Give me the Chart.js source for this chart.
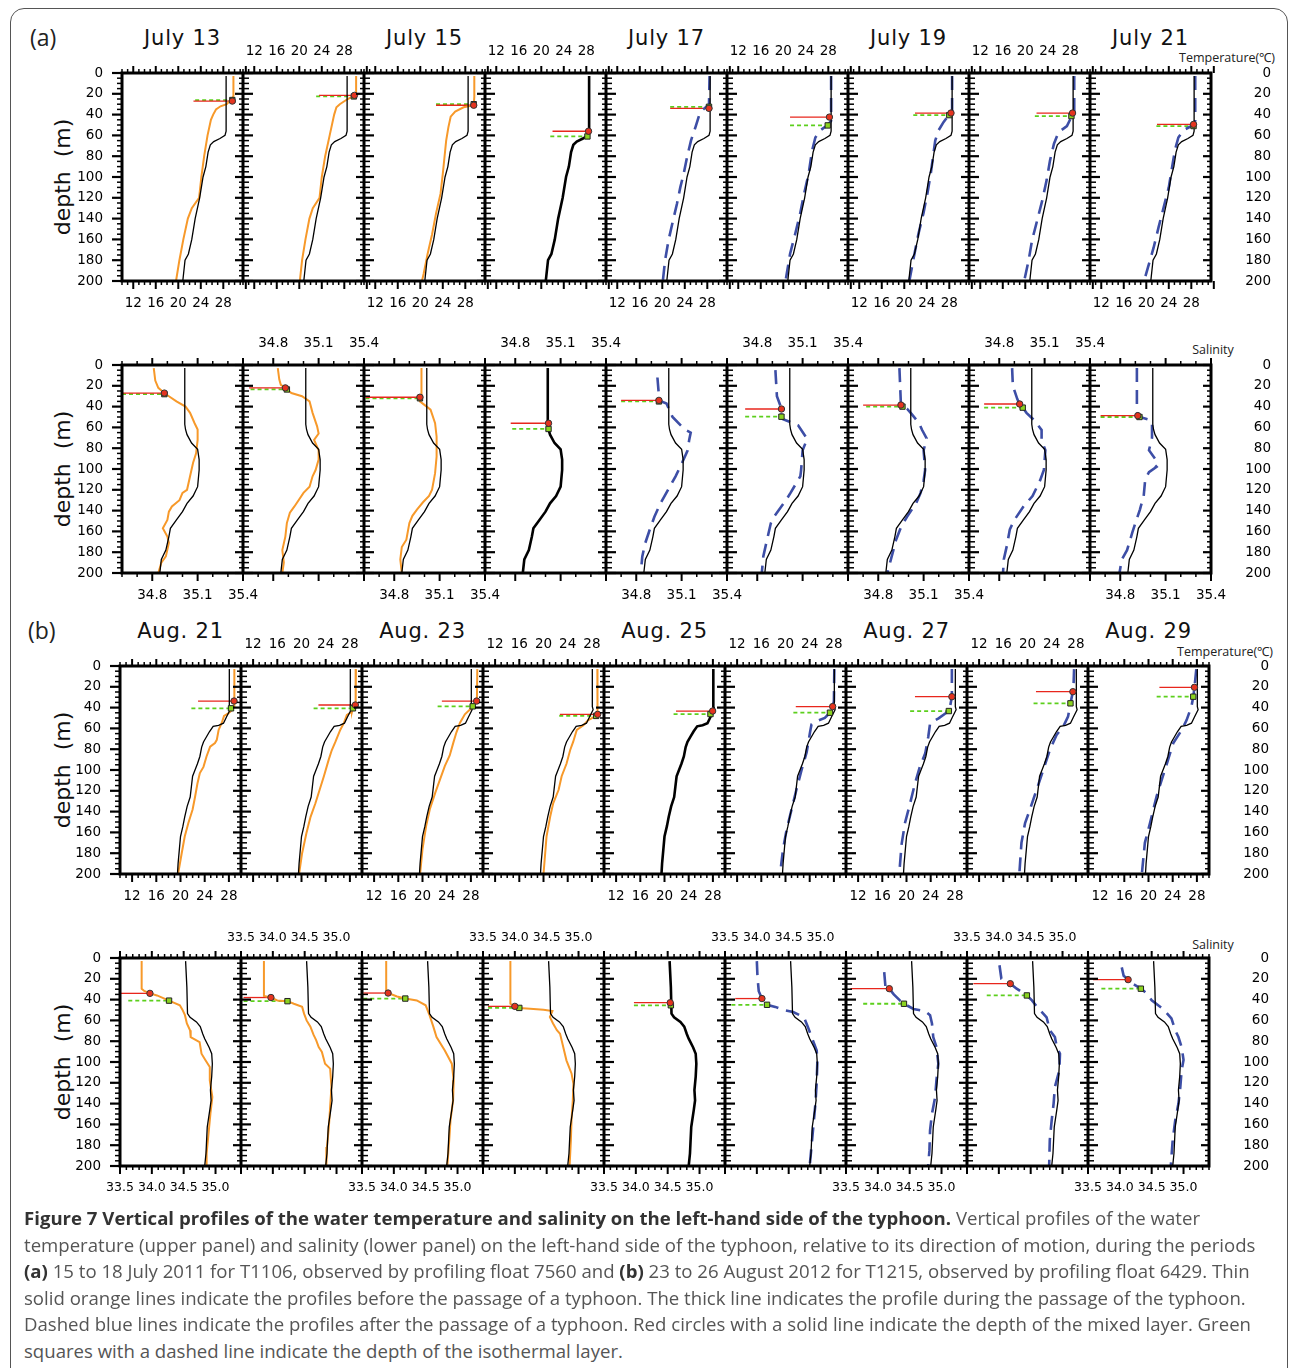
<!DOCTYPE html>
<html>
<head>
<meta charset="utf-8">
<script src="https://cdn.jsdelivr.net/npm/chart.js@4.4.0/dist/chart.umd.min.js"></script>
<style>
  body { margin:0; background:#fff; width:1293px; height:1368px; position:relative; overflow:hidden; font-family:"DejaVu Sans", sans-serif; }
  .frame { position:absolute; left:10px; top:8px; width:1278px; height:1420px; border:1.5px solid #555; border-radius:14px; box-sizing:border-box; }
  canvas { position:absolute; }
  .t { position:absolute; white-space:nowrap; color:#111; line-height:1; }
  .title { font-size:21px; letter-spacing:0.8px; transform:translate(-50%,-50%); }
  .tag { font-family:"Open Sans", sans-serif; font-size:23px; transform:translateY(-50%); color:#222; }
  .ylab { font-size:22px; transform:translate(-50%,-50%) rotate(-90deg); }
  .unit { font-family:"Open Sans", sans-serif; font-size:12.5px; transform:translate(-50%,-50%); color:#222; }
  .cap { position:absolute; left:24px; white-space:nowrap; font-family:"Open Sans", sans-serif; font-size:18.6px; color:#555; transform:translateY(-50%); }
  .cap b { color:#333; }
</style>
</head>
<body>
<div class="frame"></div>
<div id="texts"></div>
<script>
// profiles as [value, depth in m]
// (a) temperature, July 2011
const tempA_jul16 = [[28.5,3],[28.5,56],[28.3,60],[27.4,63],[26.3,66],[25.7,69],[25.3,76],[24.9,90],[24.4,100],[23.8,120],[23.0,140],[22.4,160],[21.8,174],[21.2,180],[20.8,200]];
const tempA_jul13 = [[29.8,3],[29.8,22],[29.5,25],[28.6,30],[27.5,32],[26.7,35],[26.2,40],[25.8,45],[25.2,60],[24.6,80],[24.1,100],[23.7,120],[22.4,130],[21.7,140],[20.9,160],[20.2,180],[19.6,200]];
const tempA_jul14 = [[30.1,3],[30.1,20],[29.7,22],[28.6,25],[27.2,30],[26.6,33],[26.2,40],[25.4,60],[24.6,80],[24.0,100],[23.6,120],[22.4,130],[21.8,140],[21.1,160],[20.5,180],[20.1,200]];
const tempA_jul15 = [[29.6,3],[29.6,23],[29.5,31],[27.7,33],[26.2,37],[25.4,42],[25.0,52],[24.6,65],[24.3,81],[24.0,97],[23.6,116],[22.8,135],[22.1,155],[21.3,174],[20.6,193],[20.3,200]];
const tempA_jul17 = [[28.4,3],[28.3,30],[27.3,35],[26.7,38],[25.9,52],[25.1,65],[24.4,81],[23.8,97],[23.2,110],[22.6,126],[21.9,142],[21.1,161],[20.5,180],[20.1,200]];
const tempA_jul18 = [[28.5,3],[28.5,46],[27.9,50],[26.6,55],[25.7,62],[25.1,75],[24.5,97],[23.7,116],[23.0,135],[22.1,155],[21.2,174],[20.4,200]];
const tempA_jul19 = [[28.5,3],[28.5,36],[28.0,40],[27.0,47],[26.1,55],[25.5,65],[25.1,81],[24.7,97],[24.1,116],[23.4,135],[22.5,155],[21.7,177],[20.9,200]];
const tempA_jul20 = [[28.7,3],[28.7,36],[28.4,40],[27.4,51],[25.9,57],[25.1,68],[24.4,84],[23.8,103],[23.0,123],[22.1,142],[21.2,161],[20.6,180],[19.8,200]];
const tempA_jul21 = [[28.7,3],[28.7,46],[28.4,50],[26.6,55],[25.7,62],[25.1,74],[24.6,90],[24.0,110],[23.1,129],[22.2,148],[21.3,168],[20.3,187],[19.6,200]];
// mixed layer (red) and isothermal layer (green): [value, depth], line start value
const mldTempA = [[29.6,27],[29.8,21.5],[29.5,31],[28.4,56],[28.3,34],[28.2,42.4],[28.3,38.5],[28.4,38.5],[28.4,49.4]];
const ildTempA = [[29.6,26],[29.7,22.5],[29.5,30],[28.2,61],[28.3,32.5],[27.9,50.4],[28.0,40.5],[28.2,41.4],[28.4,51]];
const mldStartTempA = [22.7,23.5,22.8,22.0,21.4,21.2,21.9,22.0,21.9];
const ildStartTempA = [23.0,23.0,22.8,21.6,21.4,21.2,21.6,21.7,21.8];

// (a) salinity
const salA_jul16 = [[35.015,3],[35.015,57],[35.02,62],[35.03,67],[35.06,75],[35.10,81],[35.11,91],[35.11,101],[35.10,117],[35.07,126],[35.03,133],[35.0,141],[34.96,149],[34.92,157],[34.91,165],[34.89,178],[34.86,187],[34.85,200]];
const salA_jul13 = [[34.81,3],[34.82,15],[34.84,22],[34.88,27],[34.91,30],[34.96,35],[35.02,40],[35.05,46],[35.08,56],[35.10,62],[35.10,72],[35.09,85],[35.07,94],[35.05,107],[35.03,120],[35.0,123],[34.98,130],[34.93,136],[34.91,141],[34.90,149],[34.87,157],[34.90,165],[34.91,171],[34.89,184],[34.86,190],[34.84,200]];
const salA_jul14 = [[34.83,3],[34.84,14],[34.85,19],[34.88,22],[34.89,23.5],[34.92,27],[34.99,30],[35.04,35],[35.06,46],[35.09,59],[35.10,66],[35.07,72],[35.10,82],[35.10,91],[35.08,101],[35.06,107],[35.04,117],[35.0,123],[34.94,136],[34.91,142],[34.89,152],[34.88,165],[34.86,178],[34.87,190],[34.86,200]];
const salA_jul15 = [[34.98,3],[34.98,29],[34.97,31],[34.97,35],[35.04,43],[35.07,56],[35.08,69],[35.08,88],[35.07,104],[35.05,120],[35.03,126],[34.99,132],[34.95,139],[34.92,145],[34.90,152],[34.88,168],[34.85,175],[34.84,187],[34.85,200]];
const salA_jul17 = [[34.94,12],[34.95,30],[34.95,34],[35.0,37],[35.04,50],[35.12,62],[35.16,65],[35.15,72],[35.14,82],[35.10,95],[35.06,107],[35.01,120],[34.96,133],[34.92,146],[34.89,158],[34.86,171],[34.84,184],[34.83,200]];
const salA_jul18 = [[34.92,5],[34.93,30],[34.96,42],[34.96,50],[34.97,52],[35.07,58],[35.13,71],[35.10,82],[35.09,101],[35.085,107],[35.02,123],[34.99,130],[34.91,146],[34.89,152],[34.86,171],[34.84,184],[34.83,200]];
const salA_jul19 = [[34.94,3],[34.95,38.5],[34.99,42],[35.02,47],[35.07,56],[35.09,62.5],[35.12,70.5],[35.10,82],[35.11,101],[35.10,111],[35.08,123],[35.05,133],[34.99,146],[34.95,156],[34.91,171],[34.90,178],[34.86,200]];
const salA_jul20 = [[34.885,3],[34.89,20],[34.92,33],[34.935,37.5],[34.955,41],[34.98,46],[35.03,53],[35.08,62.5],[35.08,72],[35.105,82],[35.095,101],[35.07,111],[35.02,126],[34.96,136],[34.90,149],[34.87,158],[34.85,174],[34.83,187],[34.825,200]];
const salA_jul21 = [[34.91,3],[34.91,40],[34.916,48.7],[34.93,50],[35.0,53],[35.01,57],[35.01,70],[34.99,82],[35.03,90],[35.02,95],[35.04,98],[34.99,103],[34.965,110],[34.955,126],[34.93,139],[34.90,152],[34.88,161],[34.845,178],[34.81,187],[34.795,200]];
const mldSalA = [[34.88,27],[34.88,22],[34.97,31],[35.02,56],[34.95,34],[34.96,42.3],[34.95,38.5],[34.935,37.5],[34.916,48.7]];
const ildSalA = [[34.88,28],[34.89,23.5],[34.97,32],[35.02,61.5],[34.95,35],[34.96,49.7],[34.96,40],[34.955,41],[34.927,50]];
const mldStartSalA = [34.6,34.64,34.61,34.77,34.7,34.72,34.70,34.70,34.67];
const ildStartSalA = [34.6,34.65,34.61,34.78,34.7,34.72,34.72,34.70,34.67];

// (b) temperature, August 2012
const tempB_aug25 = [[28.07,3],[28.07,39],[28.2,42],[27.6,49],[27.1,55],[26.3,57],[25.4,58],[24.8,63],[24.3,68],[23.8,73],[23.5,78],[23.2,87],[22.8,94],[22.4,100],[22.0,106],[21.8,116],[21.6,126],[21.1,135],[20.7,145],[20.4,154],[20.0,164],[19.8,177],[19.6,190],[19.5,200]];
const tempB_aug21 = [[28.9,3],[28.9,39],[28.6,42],[27.9,45.5],[27.2,48],[26.8,55],[26.3,61.5],[26.0,71],[25.7,74],[24.9,77.6],[24.3,87],[23.8,97],[23.2,103],[22.8,113],[22.4,126],[22.0,138],[21.3,151],[20.7,164],[20.2,180],[19.6,200]];
const tempB_aug22 = [[29.0,3],[29.0,36],[28.9,37.5],[28.5,40.7],[28.35,44],[27.5,47],[27.0,55],[26.4,61.5],[25.6,73],[25.0,81],[24.5,90],[23.7,106],[23.0,119],[22.3,132],[21.5,145],[20.8,161],[20.1,180],[19.6,200]];
const tempB_aug23 = [[29.06,3],[29.0,30],[28.95,33.7],[28.3,38.8],[27.8,42],[27.0,46.5],[26.2,54.5],[25.6,64],[25.1,73.7],[24.5,86],[23.7,96],[22.9,109],[22.1,122],[21.2,138],[20.6,154],[20.0,176],[19.6,200]];
const tempB_aug24 = [[28.9,3],[28.9,44],[28.95,46.5],[28.7,48],[27.4,52],[26.6,57],[25.5,61.5],[24.9,73],[24.4,81],[23.8,94],[23.0,106],[22.5,119],[21.6,132],[21.1,145],[20.5,164],[20.0,200]];
const tempB_aug26 = [[28.07,3],[28.0,34],[27.8,39],[27.35,44.9],[26.5,50],[25.2,53],[24.3,56],[24.05,64],[23.5,83],[22.7,99],[21.8,119],[21.0,138],[20.2,157],[19.6,176],[19.1,200]];
const tempB_aug27 = [[27.5,3],[27.5,29.5],[27.2,39],[27.0,43.3],[25.3,50.3],[23.9,55],[23.6,68],[23.1,84],[22.2,97],[21.4,113],[20.6,132],[19.75,151],[19.2,171],[18.8,200]];
const tempB_aug28 = [[27.7,3],[27.6,20],[27.5,24.7],[27.1,35.9],[26.7,48.7],[25.9,58.3],[24.8,66.3],[23.7,80.7],[22.6,100],[21.5,119],[20.4,138],[19.6,151],[19.0,170],[18.65,200]];
const tempB_aug29 = [[27.9,3],[27.6,20.5],[27.4,29.5],[27.1,39],[26.3,52],[25.5,61.5],[24.1,74],[22.7,100],[21.35,125],[20.25,151],[19.4,170],[18.9,200]];
const mldTempB = [[28.85,33.7],[28.9,37.5],[28.95,33.7],[28.95,46.5],[27.96,43.3],[27.8,39],[27.5,29.5],[27.5,24.7],[27.6,20.5]];
const ildTempB = [[28.35,40.7],[28.5,40.7],[28.3,38.8],[28.7,48],[27.6,46.2],[27.35,44.9],[27.0,43.3],[27.1,35.9],[27.4,29.5]];
const mldStartTempB = [22.9,22.8,23.2,22.7,21.9,21.7,21.4,21.4,21.8];
const ildStartTempB = [21.8,22.0,22.5,22.6,21.5,21.3,20.6,21.0,21.35];

// (b) salinity
const salB_aug25 = [[34.53,3],[34.55,28],[34.56,53.5],[34.6,57],[34.7,61.5],[34.76,66],[34.8,73],[34.83,77.6],[34.9,86],[34.94,92],[34.95,101.6],[34.94,114],[34.92,127],[34.93,137],[34.91,146],[34.87,162.5],[34.86,175],[34.85,188],[34.83,200]];
const salB_aug21 = [[33.84,3],[33.84,29.5],[33.88,31.7],[33.97,34],[34.08,36],[34.27,41],[34.44,45.5],[34.48,49.7],[34.52,55],[34.55,63],[34.6,69.5],[34.61,76],[34.75,80.8],[34.78,92],[34.84,98],[34.91,104.8],[34.91,117.6],[34.95,133.7],[34.92,149.7],[34.89,169],[34.86,188],[34.86,200]];
const salB_aug22 = [[33.86,3],[33.86,36.5],[33.97,38],[34.07,40.8],[34.23,41.5],[34.33,44],[34.46,47],[34.49,53.5],[34.53,60],[34.59,66],[34.64,74],[34.68,79],[34.72,85.6],[34.77,90.4],[34.82,101.6],[34.9,106.4],[34.92,124],[34.9,143],[34.88,162.5],[34.85,181.7],[34.84,200]];
const salB_aug23 = [[33.88,3],[33.88,32.7],[33.91,33.7],[34.05,37],[34.18,39],[34.36,40.8],[34.5,45.5],[34.56,55],[34.62,66],[34.67,76],[34.8,89],[34.91,101.6],[34.94,117.6],[34.93,137],[34.89,156],[34.87,175],[34.84,200]];
const salB_aug24 = [[33.93,3],[33.93,44],[34.0,46.5],[34.07,48],[34.24,48.7],[34.45,49.7],[34.59,51],[34.55,56.7],[34.6,63],[34.66,69.5],[34.71,72.8],[34.76,85.6],[34.81,98.4],[34.89,111],[34.92,121],[34.91,137],[34.89,156],[34.88,175],[34.86,200]];
const salB_aug26 = [[34.0,3],[34.01,18],[34.03,32],[34.08,39],[34.16,45],[34.29,47],[34.42,50],[34.57,52],[34.74,57],[34.8,66],[34.86,76],[34.94,89],[34.95,100],[34.94,120],[34.92,140],[34.89,160],[34.86,180],[34.83,200]];
const salB_aug27 = [[34.1,13.5],[34.12,28],[34.18,29.5],[34.25,35],[34.35,41],[34.41,44],[34.56,49],[34.74,51],[34.82,55],[34.85,63],[34.87,76],[34.92,85.6],[34.95,101.6],[34.92,117.6],[34.9,133.7],[34.85,149.7],[34.82,165.7],[34.81,185],[34.79,200]];
const salB_aug28 = [[34.01,7],[34.04,20],[34.18,24.7],[34.28,29.5],[34.44,36],[34.52,40.7],[34.6,47],[34.75,57],[34.8,69.5],[34.88,76],[34.91,85.6],[34.96,92],[34.95,108],[34.88,124],[34.86,140],[34.83,156],[34.8,175],[34.79,200]];
const salB_aug29 = [[34.03,9],[34.06,17],[34.13,20.8],[34.2,24.7],[34.33,29.5],[34.42,34],[34.5,40.7],[34.68,49],[34.81,58],[34.87,69.5],[34.92,76],[34.97,85.6],[35.0,98],[34.97,108],[34.95,124],[34.92,140],[34.87,156],[34.83,175],[34.8,200]];
const mldSalB = [[33.97,34],[33.97,38],[33.91,33.7],[34.0,46.5],[34.54,43],[34.08,39],[34.18,29.5],[34.18,24.7],[34.13,20.8]];
const ildSalB = [[34.27,41],[34.23,41.5],[34.18,39],[34.07,48],[34.55,45.5],[34.16,45],[34.41,44],[34.44,36],[34.33,29.5]];
const mldStartSalB = [33.5,33.54,33.52,33.58,33.97,33.66,33.57,33.6,33.58];
const ildStartSalB = [33.63,33.54,33.52,33.58,33.97,33.6,33.77,33.81,33.71];

// tick labels and titles
const depthTicks = [0,20,40,60,80,100,120,140,160,180,200];
const tempTickLabels = [12,16,20,24,28];
const salTickLabelsA = [34.8,35.1,35.4];
const salTickLabelsB = [33.5,34.0,34.5,35.0];
const titlesA = ['July 13','July 15','July 17','July 19','July 21'];
const titlesB = ['Aug. 21','Aug. 23','Aug. 25','Aug. 27','Aug. 29'];

const ORANGE = '#f7992a', BLUE = '#3d4ea6', RED = '#e8261c', GREEN = '#5ccf1c';

const rows = [
  { left:122, top:73, width:1089, height:208, xmin:10, xmax:31.5, step:1, major:v => v % 4 === 0, labels:tempTickLabels, dec:0,
    profiles:[tempA_jul13,tempA_jul14,tempA_jul15,tempA_jul16,tempA_jul17,tempA_jul18,tempA_jul19,tempA_jul20,tempA_jul21], storm:3,
    mld:mldTempA, ild:ildTempA, mldStart:mldStartTempA, ildStart:ildStartTempA, font:13.5 },
  { left:122, top:365, width:1089, height:208, xmin:34.6, xmax:35.4, step:0.1, major:v => salTickLabelsA.includes(v), labels:salTickLabelsA, dec:1,
    profiles:[salA_jul13,salA_jul14,salA_jul15,salA_jul16,salA_jul17,salA_jul18,salA_jul19,salA_jul20,salA_jul21], storm:3,
    mld:mldSalA, ild:ildSalA, mldStart:mldStartSalA, ildStart:ildStartSalA, font:13.5 },
  { left:120, top:666, width:1089, height:208, xmin:10, xmax:30, step:1, major:v => v % 4 === 0, labels:tempTickLabels, dec:0,
    profiles:[tempB_aug21,tempB_aug22,tempB_aug23,tempB_aug24,tempB_aug25,tempB_aug26,tempB_aug27,tempB_aug28,tempB_aug29], storm:4,
    mld:mldTempB, ild:ildTempB, mldStart:mldStartTempB, ildStart:ildStartTempB, font:13.5 },
  { left:120, top:958, width:1089, height:208, xmin:33.5, xmax:35.4, step:0.1, major:v => salTickLabelsB.includes(v), labels:salTickLabelsB, dec:1,
    profiles:[salB_aug21,salB_aug22,salB_aug23,salB_aug24,salB_aug25,salB_aug26,salB_aug27,salB_aug28,salB_aug29], storm:4,
    mld:mldSalB, ild:ildSalB, mldStart:mldStartSalB, ildStart:ildStartSalB, font:12.5 }
];

const M = 60; // canvas margin around each plot row

const panelAxes = {
  id: 'panelAxes',
  afterDraw(chart, args, opts) {
    const r = opts.row;
    const { ctx, chartArea: a, scales: { x, y } } = chart;
    const span = r.xmax - r.xmin;
    const seg = (x1, y1, x2, y2) => { ctx.beginPath(); ctx.moveTo(x1, y1); ctx.lineTo(x2, y2); ctx.stroke(); };
    ctx.save();
    ctx.strokeStyle = '#000';
    const n = Math.round(span / r.step);
    for (let i = 0; i < 9; i++) {
      for (let k = 0; k <= n; k++) {
        const v = Math.round((r.xmin + k * r.step) * 100) / 100;
        const px = x.getPixelForValue(i * span + v - r.xmin);
        const big = r.major(v);
        ctx.lineWidth = big ? 2 : 1.5;
        seg(px, a.top, px, a.top - (big ? 7 : 4));
        seg(px, a.bottom, px, a.bottom + (big ? 8 : 4));
      }
    }
    for (let d = 0; d <= 200; d += 5) {
      const py = y.getPixelForValue(d);
      const big = d % 20 === 0;
      ctx.lineWidth = big ? 2.2 : 1.5;
      for (let i = 0; i <= 9; i++) {
        const px = x.getPixelForValue(i * span);
        if (i === 0) seg(px - (big ? 10 : 5), py, px, py);
        else if (i === 9) seg(px - (big ? 8 : 4), py, px, py);
        else seg(px - (big ? 8 : 4), py, px + (big ? 10 : 6), py);
      }
    }
    ctx.lineWidth = 3;
    ctx.strokeRect(a.left, a.top, a.right - a.left, a.bottom - a.top);
    for (let i = 1; i < 9; i++) {
      const px = x.getPixelForValue(i * span);
      seg(px, a.top, px, a.bottom);
    }
    ctx.restore();
  }
};

function labelTicks(scale, r, panels) {
  const span = r.xmax - r.xmin;
  const ticks = [];
  panels.forEach(i => r.labels.forEach(v => ticks.push({ value: i * span + v - r.xmin, txt: v.toFixed(r.dec) })));
  scale.ticks = ticks;
}

function buildRow(r) {
  const span = r.xmax - r.xmin;
  const map = (pts, i) => pts.map(p => ({ x: i * span + p[0] - r.xmin, y: p[1] }));
  const datasets = [];

  datasets.push({ data: r.mld.map((p, i) => map([p], i)[0]), showLine: false, pointStyle: 'circle', pointRadius: 3.2,
    backgroundColor: '#e5341f', borderColor: '#333', borderWidth: 1, order: 0 });
  datasets.push({ data: r.ild.map((p, i) => map([p], i)[0]), showLine: false, pointStyle: 'rect', pointRadius: 3.8,
    backgroundColor: '#8bd320', borderColor: '#222', borderWidth: 1, order: 0 });

  r.profiles.forEach((prof, i) => {
    datasets.push({ data: map(r.profiles[r.storm], i), showLine: true, pointRadius: 0, borderColor: '#000',
      borderWidth: i === r.storm ? 2.6 : 1.3, order: 1 });
    if (i < r.storm) {
      datasets.push({ data: map(prof, i), showLine: true, pointRadius: 0, borderColor: ORANGE, borderWidth: 2, order: 1 });
    } else if (i > r.storm) {
      datasets.push({ data: map(prof, i), showLine: true, pointRadius: 0, borderColor: BLUE, borderWidth: 2.6,
        borderDash: [14, 8], order: 1 });
    }
    datasets.push({ data: map([[r.mldStart[i], r.mld[i][1]], r.mld[i]], i), showLine: true, pointRadius: 0,
      borderColor: RED, borderWidth: 1.3, order: 2 });
    datasets.push({ data: map([[r.ildStart[i], r.ild[i][1]], r.ild[i]], i), showLine: true, pointRadius: 0,
      borderColor: GREEN, borderWidth: 1.8, borderDash: [4, 3], order: 2 });
  });

  const canvas = document.createElement('canvas');
  const w = r.width + 2 * M, h = r.height + 2 * M;
  canvas.width = w; canvas.height = h;
  canvas.style.left = (r.left - M) + 'px';
  canvas.style.top = (r.top - M) + 'px';
  canvas.style.width = w + 'px'; canvas.style.height = h + 'px';
  document.body.appendChild(canvas);

  const tickFont = { family: 'DejaVu Sans', size: r.font };
  const xAxis = (pos, panels, pad) => ({
    type: 'linear', position: pos, min: 0, max: 9 * span,
    grid: { display: false, drawTicks: false, tickLength: 0 }, border: { display: false },
    afterBuildTicks: s => labelTicks(s, r, panels),
    afterFit: s => { s.height = M; },
    ticks: { autoSkip: false, maxRotation: 0, minRotation: 0, padding: pad, color: '#000', font: tickFont,
      callback: (v, idx, ticks) => ticks[idx].txt }
  });
  const yAxis = (pos) => ({
    type: 'linear', position: pos, min: 0, max: 200, reverse: true,
    grid: { display: false, drawTicks: false, tickLength: 0 }, border: { display: false },
    afterBuildTicks: s => { s.ticks = depthTicks.map(v => ({ value: v })); },
    afterFit: s => { s.width = M; },
    ticks: { padding: 19, crossAlign: pos === 'right' ? 'far' : 'near', color: '#000',
      font: { family: 'DejaVu Sans', size: 13.5 } }
  });

  new Chart(canvas, {
    type: 'scatter',
    data: { datasets },
    options: {
      responsive: false, animation: false, devicePixelRatio: 1,
      layout: { padding: 0 },
      plugins: { legend: { display: false }, tooltip: { enabled: false }, panelAxes: { row: r } },
      scales: {
        x: xAxis('bottom', [0, 2, 4, 6, 8], 14),
        x2: xAxis('top', [1, 3, 5, 7], 13),
        y: yAxis('left'),
        y2: yAxis('right')
      }
    },
    plugins: [panelAxes]
  });
}

rows.forEach(buildRow);

// text around the plots
const texts = document.getElementById('texts');
function addText(cls, html, x, y) {
  const d = document.createElement('div');
  d.className = 't ' + cls;
  d.innerHTML = html;
  d.style.left = x + 'px'; d.style.top = y + 'px';
  texts.appendChild(d);
}
titlesA.forEach((t, k) => addText('title', t, rows[0].left + (2 * k + 0.5) * 121, 38));
titlesB.forEach((t, k) => addText('title', t, rows[2].left + (2 * k + 0.5) * 121, 631));
addText('tag', '(a)', 30, 37);
addText('tag', '(b)', 28, 630);
rows.forEach(r => addText('ylab', 'depth&nbsp;&nbsp;(m)', 63, r.top + r.height / 2));
addText('unit', 'Temperature(℃)', 1227, 58);
addText('unit', 'Salinity', 1213, 350);
addText('unit', 'Temperature(℃)', 1225, 652);
addText('unit', 'Salinity', 1213, 945);

const captionLines = [
  '<b>Figure 7 Vertical profiles of the water temperature and salinity on the left-hand side of the typhoon.</b> Vertical profiles of the water',
  'temperature (upper panel) and salinity (lower panel) on the left-hand side of the typhoon, relative to its direction of motion, during the periods',
  '<b>(a)</b> 15 to 18 July 2011 for T1106, observed by profiling float 7560 and <b>(b)</b> 23 to 26 August 2012 for T1215, observed by profiling float 6429. Thin',
  'solid orange lines indicate the profiles before the passage of a typhoon. The thick line indicates the profile during the passage of the typhoon.',
  'Dashed blue lines indicate the profiles after the passage of a typhoon. Red circles with a solid line indicate the depth of the mixed layer. Green',
  'squares with a dashed line indicate the depth of the isothermal layer.'
];
captionLines.forEach((line, k) => {
  const d = document.createElement('div');
  d.className = 'cap';
  d.innerHTML = line;
  d.style.top = (1217 + k * 26.6) + 'px';
  document.body.appendChild(d);
});
</script>
</body>
</html>
